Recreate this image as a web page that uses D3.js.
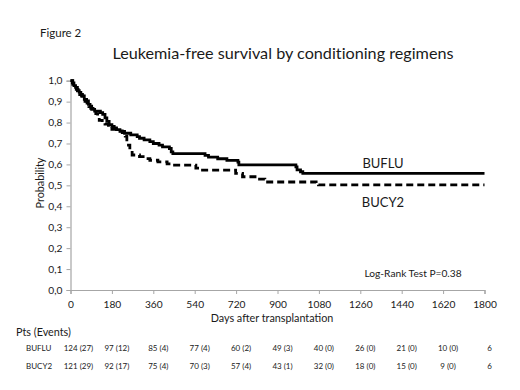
<!DOCTYPE html>
<html><head><meta charset="utf-8">
<script src="https://cdn.jsdelivr.net/npm/d3@7"></script>
<style>
html,body{margin:0;padding:0;background:#fff;}
text{font-family:Lato,"Open Sans",sans-serif;fill:#1a1a1a;}
</style></head>
<body>
<svg id="chart" width="520" height="390"></svg>
<script>
// ---- data ----
const buFluTimes = [0,8,15,22,30,38,45,52,60,70,78,85,92,105,130,140,150,158,168,180,190,200,215,235,262,290,300,320,345,360,385,400,430,438,445,585,600,640,680,728,732,980,985,1000,1010,1800];
const buFluSurv  = [1.0,0.99,0.976,0.968,0.952,0.944,0.935,0.927,0.911,0.903,0.887,0.879,0.863,0.855,0.847,0.839,0.822,0.806,0.79,0.782,0.774,0.766,0.758,0.749,0.741,0.733,0.725,0.717,0.709,0.700,0.692,0.684,0.676,0.660,0.652,0.643,0.635,0.627,0.619,0.611,0.598,0.588,0.574,0.565,0.557,0.557];
const buCyTimes = [0,10,18,25,33,40,48,55,63,72,80,88,98,110,118,125,138,150,165,180,200,225,238,245,252,258,268,300,325,345,380,420,445,545,565,718,748,815,845,1068,1078,1800];
const buCySurv  = [1.0,0.983,0.975,0.959,0.95,0.934,0.926,0.917,0.901,0.893,0.876,0.868,0.86,0.843,0.826,0.81,0.802,0.793,0.777,0.768,0.76,0.752,0.735,0.71,0.692,0.667,0.645,0.637,0.628,0.62,0.612,0.603,0.597,0.582,0.573,0.557,0.541,0.53,0.516,0.508,0.502,0.502];
const xTicks = [0,180,360,540,720,900,1080,1260,1440,1620,1800];
const yTicks = [0,0.1,0.2,0.3,0.4,0.5,0.6,0.7,0.8,0.9,1.0];
const groups = ["BUFLU","BUCY2"];
const buFluAtRisk = ["124 (27)","97 (12)","85 (4)","77 (4)","60 (2)","49 (3)","40 (0)","26 (0)","21 (0)","10 (0)","6"];
const buCyAtRisk  = ["121 (29)","92 (17)","75 (4)","70 (3)","57 (4)","43 (1)","32 (0)","18 (0)","15 (0)","9 (0)","6"];
const titleText = "Leukemia-free survival by conditioning regimens";
const figureLabel = "Figure 2";
const xLabel = "Days after transplantation";
const yLabel = "Probability";
const testLabel = "Log-Rank Test  P=0.38";
const tableHeader = "Pts (Events)";

// ---- layout ----
const svg = d3.select("#chart");
const m = {left:70.5, right:484.5, top:80.7, bottom:290};
const x = d3.scaleLinear().domain([0,1800]).range([m.left, m.right]);
const y = d3.scaleLinear().domain([0,1]).range([m.bottom, m.top]);

svg.append("text").attr("x",40).attr("y",37).attr("font-size",11.5).text(figureLabel);
svg.append("text").attr("x",283).attr("y",59).attr("text-anchor","middle").attr("font-size",16.2)
  .style("font-variant-ligatures","none").text(titleText);

// axes
const axisColor = "#a6a6a6";
const yAxis = svg.append("g").attr("transform",`translate(${m.left},0)`)
  .call(d3.axisLeft(y).tickValues(yTicks).tickSize(4).tickPadding(4).tickFormat(d=>d3.format(".1f")(d).replace(".",",")));
const xAxis = svg.append("g").attr("transform",`translate(0,${m.bottom})`)
  .call(d3.axisBottom(x).tickValues(xTicks).tickSize(4).tickPadding(7).tickFormat(d3.format("d")));
[xAxis,yAxis].forEach(g=>{
  g.select(".domain").attr("stroke",axisColor).attr("stroke-width",1.2);
  g.selectAll(".tick line").attr("stroke",axisColor);
  g.selectAll(".tick text").attr("font-size",10.2).attr("font-family","Lato,sans-serif").attr("fill","#262626");
});

svg.append("text").attr("transform",`translate(44,183) rotate(-90)`).attr("text-anchor","middle").attr("font-size",10.8).text(yLabel);
svg.append("text").attr("x",272).attr("y",322).attr("text-anchor","middle").attr("font-size",10.8).text(xLabel);

// curves
const line = d3.line().x(d=>x(d[0])).y(d=>y(d[1])).curve(d3.curveStepAfter);
const buFlu = buFluTimes.map((t,i)=>[t,buFluSurv[i]]);
const buCy = buCyTimes.map((t,i)=>[t,buCySurv[i]]);
svg.append("path").datum(buCy).attr("d",line).attr("fill","none").attr("stroke","#000").attr("stroke-width",2.8).attr("stroke-dasharray","7,4");
svg.append("path").datum(buFlu).attr("d",line).attr("fill","none").attr("stroke","#000").attr("stroke-width",2.8);

svg.append("text").attr("x",383).attr("y",168).attr("text-anchor","middle").attr("font-size",13).text(groups[0]);
svg.append("text").attr("x",383).attr("y",207).attr("text-anchor","middle").attr("font-size",13).text(groups[1]);
svg.append("text").attr("x",413).attr("y",277).attr("text-anchor","middle").attr("font-size",10.2).text(testLabel);

// at-risk table
svg.append("text").attr("x",16).attr("y",336).attr("font-size",10.8).text(tableHeader);
[[groups[0],buFluAtRisk,351],[groups[1],buCyAtRisk,369]].forEach(([g,vals,yy])=>{
  svg.append("text").attr("x",26).attr("y",yy).attr("font-size",8).text(g);
  svg.selectAll(null).data(vals).enter().append("text")
    .attr("x",(d,i)=>x(xTicks[i])+(i===0?8:5)).attr("y",yy).attr("text-anchor","middle").attr("font-size",8).text(d=>d);
});
</script>
</body></html>
